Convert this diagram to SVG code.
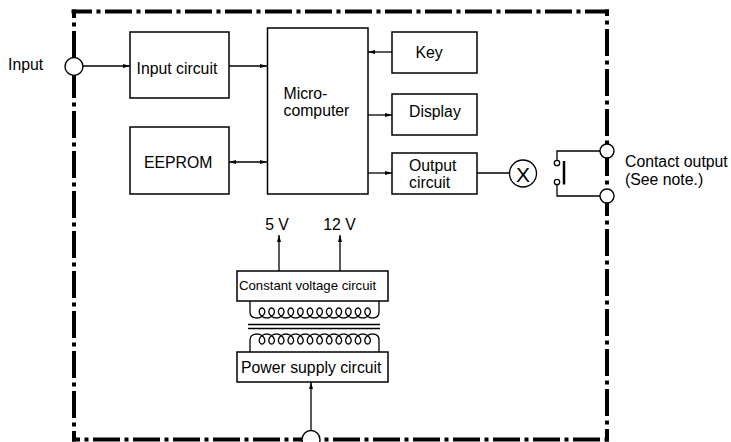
<svg xmlns="http://www.w3.org/2000/svg" xmlns:xlink="http://www.w3.org/1999/xlink" width="731" height="442" viewBox="0 0 731 442">
<style>
.box{fill:#fff;stroke:#000;stroke-width:1.5}
.t{font-family:"Liberation Sans",Arial,sans-serif;font-size:15.8px;fill:#000}
.sm{font-size:13.2px}
.ln{stroke:#000;stroke-width:1.3;fill:none}
.bd{stroke:#000;stroke-width:4;fill:none;stroke-dasharray:27 4.5 4 4.5}
.term{fill:#fff;stroke:#000;stroke-width:1.4}
.coil{fill:none;stroke:#000;stroke-width:1.3}
</style>
<defs>
<marker id="ah" viewBox="0 0 7 4" refX="7" refY="2" markerWidth="7" markerHeight="4" markerUnits="userSpaceOnUse" orient="auto-start-reverse">
<path d="M0,0 L7,2 L0,4 z" fill="#000"/>
</marker>
<path id="loop" d="M-4.8,5 C-1.382,5 1.8,2.618 2.6,0 C3.4,-2.618 1.818,-5 0,-5 C-1.818,-5 -3.4,-2.618 -2.6,0 C-1.8,2.618 1.382,5 4.8,5"/>
</defs>

<g id="border">
<line class="bd" x1="71.5" y1="11.5" x2="609" y2="11.5" stroke-dashoffset="6.5"/>
<line class="bd" x1="607" y1="9.5" x2="607" y2="441.5" stroke-dashoffset="20.5"/>
<line class="bd" x1="74" y1="9.5" x2="74" y2="441.5" stroke-dashoffset="18.5"/>
<line class="bd" x1="72" y1="439.5" x2="609" y2="439.5" stroke-dashoffset="19"/>
</g>

<g id="connectors">
<line class="ln" x1="83" y1="66" x2="130" y2="66" marker-end="url(#ah)"/>
<line class="ln" x1="229" y1="66" x2="267" y2="66" marker-end="url(#ah)"/>
<line class="ln" x1="229" y1="162" x2="267" y2="162" marker-start="url(#ah)" marker-end="url(#ah)"/>
<line class="ln" x1="392" y1="52" x2="368" y2="52" marker-end="url(#ah)"/>
<line class="ln" x1="368" y1="115" x2="392" y2="115" marker-end="url(#ah)"/>
<line class="ln" x1="368" y1="173" x2="392" y2="173" marker-end="url(#ah)"/>
<line class="ln" x1="477" y1="173" x2="509.5" y2="173"/>
<polyline class="ln" points="557,160.3 557,151 600,151"/>
<polyline class="ln" points="557,184.7 557,196 600,196"/>
<line class="ln" x1="279" y1="271" x2="279" y2="235" marker-end="url(#ah)"/>
<line class="ln" x1="340" y1="271" x2="340" y2="235" marker-end="url(#ah)"/>
<line class="ln" x1="311" y1="430" x2="311" y2="382" marker-end="url(#ah)"/>
</g>

<g id="input-terminal">
<circle class="term" cx="74" cy="66.5" r="9"/>
<text class="t" x="8" y="69.5">Input</text>
</g>

<g id="input-circuit">
<rect class="box" x="130" y="32" width="99" height="66"/>
<text class="t" x="136.5" y="73.5">Input circuit</text>
</g>

<g id="eeprom">
<rect class="box" x="130" y="127" width="99" height="67"/>
<text class="t" x="144" y="167.5">EEPROM</text>
</g>

<g id="microcomputer">
<rect class="box" x="267.5" y="28" width="100.5" height="166"/>
<text class="t" x="283.5" y="98.5">Micro-</text>
<text class="t" x="283.5" y="116">computer</text>
</g>

<g id="key">
<rect class="box" x="392" y="32" width="85" height="41"/>
<text class="t" x="415.5" y="58">Key</text>
</g>

<g id="display">
<rect class="box" x="392" y="94" width="85" height="41"/>
<text class="t" x="409" y="117">Display</text>
</g>

<g id="output-circuit">
<rect class="box" x="392" y="153" width="85" height="41"/>
<text class="t" x="409" y="170.5">Output</text>
<text class="t" x="409" y="188">circuit</text>
</g>

<g id="relay-coil">
<circle class="ln" cx="523" cy="173.5" r="13.5" fill="#fff"/>
<text class="t" x="523" y="182" text-anchor="middle" style="font-size:21px">X</text>
</g>

<g id="relay-contact">
<circle class="ln" cx="557" cy="163" r="2.7"/>
<circle class="ln" cx="557" cy="182" r="2.7"/>
<line x1="564" y1="161" x2="564" y2="184.5" stroke="#000" stroke-width="2.5"/>
</g>

<g id="contact-output">
<circle class="term" cx="607" cy="151" r="7"/>
<circle class="term" cx="607" cy="196" r="7"/>
<text class="t" x="625" y="167">Contact output</text>
<text class="t" x="625" y="185">(See note.)</text>
</g>

<g id="voltages">
<text class="t" x="277" y="229.5" text-anchor="middle">5 V</text>
<text class="t" x="339.5" y="229.5" text-anchor="middle">12 V</text>
</g>

<g id="constant-voltage-circuit">
<rect class="box" x="237" y="271" width="151" height="30"/>
<text class="t sm" x="239" y="290">Constant voltage circuit</text>
</g>

<g id="transformer">
<path class="coil" d="M250,301 V312 Q250,318 257.2,318 M372.4,318 Q379,318 379,312 V301"/>
<g class="coil">
<use xlink:href="#loop" transform="translate(262,313)"/>
<use xlink:href="#loop" transform="translate(271.6,313)"/>
<use xlink:href="#loop" transform="translate(281.2,313)"/>
<use xlink:href="#loop" transform="translate(290.8,313)"/>
<use xlink:href="#loop" transform="translate(300.4,313)"/>
<use xlink:href="#loop" transform="translate(310,313)"/>
<use xlink:href="#loop" transform="translate(319.6,313)"/>
<use xlink:href="#loop" transform="translate(329.2,313)"/>
<use xlink:href="#loop" transform="translate(338.8,313)"/>
<use xlink:href="#loop" transform="translate(348.4,313)"/>
<use xlink:href="#loop" transform="translate(358,313)"/>
<use xlink:href="#loop" transform="translate(367.6,313)"/>
</g>
<line class="ln" x1="248" y1="324.5" x2="380" y2="324.5"/>
<line class="ln" x1="248" y1="328.5" x2="380" y2="328.5"/>
<path class="coil" d="M250,352 V340 Q250,334 257.2,334 M372.4,334 Q379,334 379,340 V352"/>
<g class="coil">
<use xlink:href="#loop" transform="translate(262,339) scale(1,-1)"/>
<use xlink:href="#loop" transform="translate(271.6,339) scale(1,-1)"/>
<use xlink:href="#loop" transform="translate(281.2,339) scale(1,-1)"/>
<use xlink:href="#loop" transform="translate(290.8,339) scale(1,-1)"/>
<use xlink:href="#loop" transform="translate(300.4,339) scale(1,-1)"/>
<use xlink:href="#loop" transform="translate(310,339) scale(1,-1)"/>
<use xlink:href="#loop" transform="translate(319.6,339) scale(1,-1)"/>
<use xlink:href="#loop" transform="translate(329.2,339) scale(1,-1)"/>
<use xlink:href="#loop" transform="translate(338.8,339) scale(1,-1)"/>
<use xlink:href="#loop" transform="translate(348.4,339) scale(1,-1)"/>
<use xlink:href="#loop" transform="translate(358,339) scale(1,-1)"/>
<use xlink:href="#loop" transform="translate(367.6,339) scale(1,-1)"/>
</g>
</g>

<g id="power-supply-circuit">
<rect class="box" x="237" y="352" width="151" height="30"/>
<text class="t" x="241" y="373">Power supply circuit</text>
</g>

<g id="power-terminal">
<circle class="term" cx="311" cy="439.5" r="9"/>
</g>
</svg>
